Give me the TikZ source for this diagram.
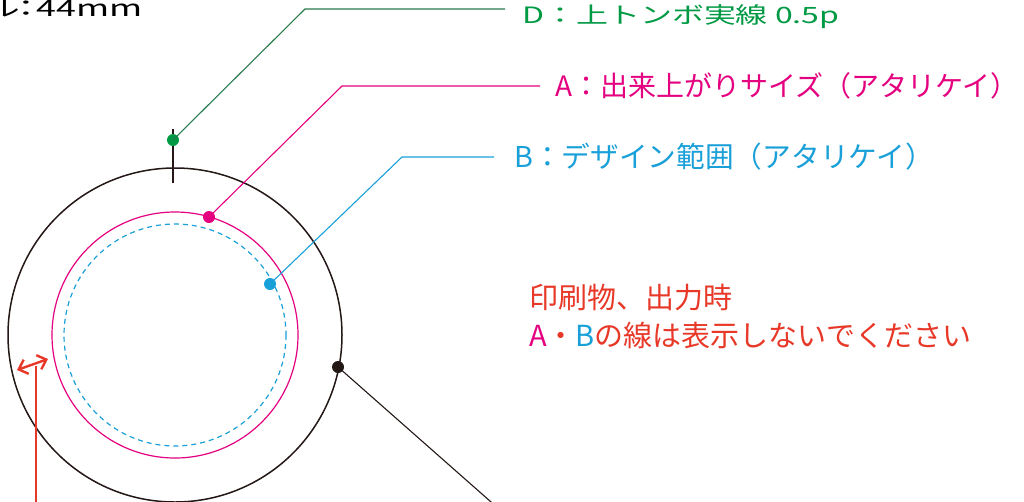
\documentclass[tikz,border=0pt]{standalone}
\usepackage{fontspec}
\setmainfont{Noto Sans CJK JP}
\usetikzlibrary{arrows.meta}
\definecolor{dgreen}{HTML}{2A7A50}
\definecolor{mgreen}{HTML}{009A44}
\definecolor{mpink}{HTML}{E4007F}
\definecolor{mcyan}{HTML}{1AA0D8}
\definecolor{mred}{HTML}{E83828}
\definecolor{mblack}{HTML}{231815}
\tikzset{
  dotmark/.style={circle,fill,inner sep=0pt,minimum size=12pt},
  leader/.style={line width=1.1pt},
  lbl/.style={anchor=base west,inner sep=0pt,font=\fontsize{29}{34}\selectfont},
  toplbl/.style={anchor=base west,inner sep=0pt,font=\fontsize{22.5}{26}\selectfont,xscale=1.42},
}
\begin{document}
\begin{tikzpicture}[x=1pt,y=-1pt]
\useasboundingbox (0,0) rectangle (1024,501);
\fill[white] (0,0) rectangle (1024,501);
% circles
\coordinate (c) at (175,335);
\draw[mblack,line width=1.5pt] (c) circle[radius=167];
\draw[mpink,line width=1.2pt] (c) circle[radius=123];
\draw[mcyan,line width=1.2pt,dash pattern=on 5pt off 4pt] (c) circle[radius=111];
% top tick
\coordinate (t1) at (173,129);
\coordinate (t2) at (173,183);
\draw[mblack,line width=1.5pt] (t1) -- (t2);
% top-left text
\node[toplbl,anchor=base east,xscale=1.12] (size) at (143,16) {ル\hspace{-7pt}：\hspace{-5pt}44mm};
% D leader
\node[dotmark,mgreen] (dD) at (173,140) {};
\coordinate (kD) at (305,9);
\coordinate (eD) at (505,9);
\draw[dgreen,leader] (dD.center) -- (kD) -- (eD);
\node[toplbl,mgreen] (lD) at (522,23) {D：上トンボ実線 0.5p};
% A leader
\node[dotmark,mpink] (dA) at (209,217) {};
\coordinate (kA) at (342,86);
\coordinate (eA) at (540,86);
\draw[mpink,leader] (dA.center) -- (kA) -- (eA);
\node[lbl,mpink,font=\fontsize{28}{34}\selectfont] (lA) at (555,96) {A：出来上がりサイズ（アタリケイ）};
% B leader
\node[dotmark,mcyan] (dB) at (270,284) {};
\coordinate (kB) at (402,157);
\coordinate (eB) at (494,157);
\draw[mcyan,leader] (dB.center) -- (kB) -- (eB);
\node[lbl,mcyan,font=\fontsize{28.7}{34}\selectfont] (lB) at (514,167) {B：デザイン範囲（アタリケイ）};
% note
\node[lbl,mred] (n1) at (529,308) {印刷物、出力時};
\node[lbl,mred] (n2) at (529,346) {{\color{mpink}A}・{\color{mcyan}B}の線は表示しないでください};
% black leader
\node[dotmark,mblack] (dK) at (338,367) {};
\coordinate (eK) at (499,509);
\draw[mblack,leader] (dK.center) -- (eK);
% red arrow
\coordinate (aL) at (17,370);
\coordinate (aR) at (48,359);
\draw[mred,line width=2.4pt,{Straight Barb[length=8pt,width=15pt]}-{Straight Barb[length=8pt,width=15pt]}] (aL) -- (aR);
\coordinate (v1) at (36,366);
\coordinate (v2) at (36,505);
\draw[mred,line width=1.3pt] (v1) -- (v2);
\end{tikzpicture}
\end{document}
